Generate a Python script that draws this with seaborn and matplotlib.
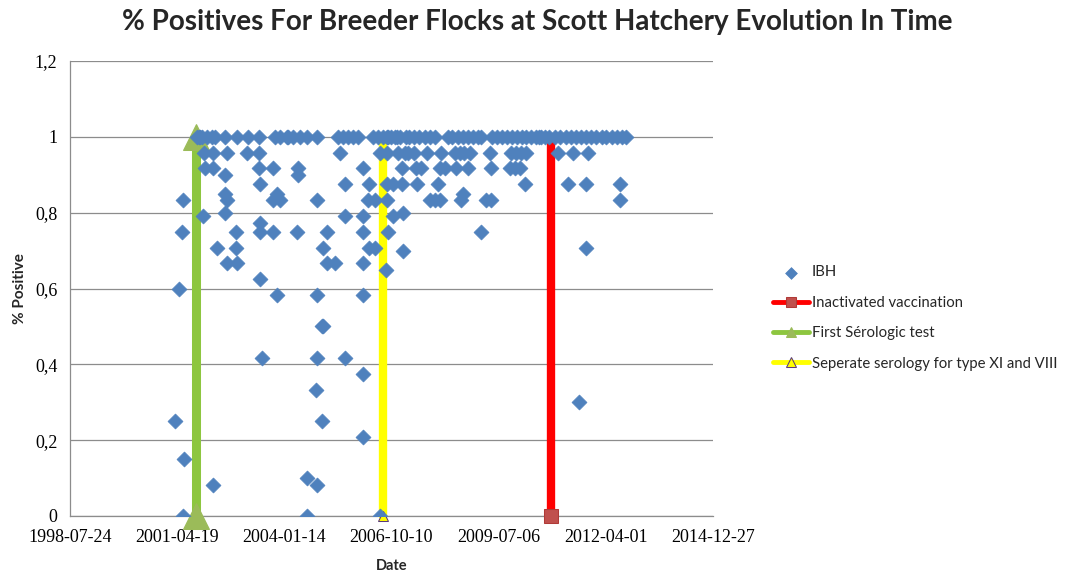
import matplotlib
matplotlib.use('Agg')
import matplotlib.pyplot as plt
import pandas as pd
import seaborn as sns

# IBH results, one list of sampling dates per % positive level
dates_100 = ['2001-10-21', '2001-11-08', '2001-11-22', '2001-12-04', '2002-01-20', '2002-03-06',
             '2002-04-06', '2002-07-08', '2002-10-26', '2003-02-06', '2003-05-24', '2003-10-18',
             '2003-12-04', '2004-02-08', '2004-02-20', '2004-04-03', '2004-06-07', '2004-08-12',
             '2004-11-11', '2005-05-28', '2005-07-14', '2005-08-30', '2005-10-15', '2005-12-01',
             '2006-04-19', '2006-06-05', '2006-07-21', '2006-08-25', '2006-09-09', '2006-10-05',
             '2006-11-08', '2006-11-27', '2006-12-25', '2007-02-19', '2007-03-26', '2007-05-12',
             '2007-06-28', '2007-08-14', '2007-09-30', '2007-11-16', '2008-03-16', '2008-05-01',
             '2008-06-17', '2008-08-03', '2008-09-19', '2008-11-04', '2008-12-21', '2009-01-25',
             '2009-05-01', '2009-06-17', '2009-08-02', '2009-09-18', '2009-11-04', '2009-12-20',
             '2010-02-05', '2010-03-22', '2010-05-08', '2010-06-24', '2010-07-21', '2010-08-09',
             '2010-09-07', '2010-10-23', '2010-12-09', '2011-01-25', '2011-03-30', '2011-05-16',
             '2011-07-01', '2011-08-17', '2011-10-03', '2011-11-19', '2012-01-04', '2012-02-21',
             '2012-04-07', '2012-06-02', '2012-07-18', '2012-09-03', '2012-10-10']
dates_096 = ['2001-12-28', '2002-03-21', '2002-07-24', '2003-01-28', '2003-05-24', '2005-06-16',
             '2006-06-23', '2006-08-25', '2006-12-09', '2007-02-10', '2007-03-11', '2007-05-12',
             '2007-09-08', '2008-01-17', '2008-05-20', '2008-07-06', '2008-08-21', '2008-10-07',
             '2009-04-12', '2009-11-01', '2009-12-11', '2010-01-27', '2010-03-19', '2011-01-09',
             '2011-05-28', '2011-10-15']
dates_092 = ['2002-01-04', '2002-03-21', '2003-05-24', '2003-10-02', '2004-05-22', '2006-01-20',
             '2007-01-19', '2007-05-28', '2007-07-14', '2008-01-01', '2008-02-18', '2008-06-05',
             '2008-09-19', '2009-04-24', '2009-10-16', '2009-12-02', '2010-01-17']
dates_090 = ['2002-07-08', '2004-05-22']
dates_088 = ['2003-05-31', '2005-08-01', '2006-03-16', '2006-08-25', '2006-10-20', '2007-01-19',
             '2007-06-09', '2007-12-16', '2010-03-05', '2011-04-12', '2011-09-30', '2012-08-12']
dates_085 = ['2002-07-08', '2003-11-03', '2008-08-03']
dates_083 = ['2001-06-09', '2002-07-24', '2003-10-02', '2003-12-04', '2004-11-11', '2006-03-06',
             '2006-05-08', '2006-08-25', '2007-09-30', '2007-11-16', '2008-01-01', '2008-07-21',
             '2009-03-12', '2009-04-24', '2012-08-12']
dates_080 = ['2002-07-08', '2007-01-25']
dates_079 = ['2001-12-19', '2005-08-01', '2006-01-20', '2006-10-23']
dates_077 = ['2003-05-31']
dates_075 = ['2001-06-02', '2002-10-19', '2003-05-31', '2003-10-02', '2004-05-15', '2005-02-19',
             '2006-01-20', '2006-09-09', '2009-01-25']
dates_071 = ['2002-04-22', '2002-10-19', '2005-01-06', '2006-03-16', '2006-05-08', '2011-09-30']
dates_070 = ['2007-01-25']
dates_067 = ['2002-07-24', '2002-10-26', '2005-02-19', '2005-04-30', '2006-01-20']
dates_065 = ['2006-08-18']
dates_063 = ['2003-05-31']
dates_060 = ['2001-05-08']
dates_058 = ['2003-11-09', '2004-11-11', '2006-01-20']
dates_050 = ['2004-12-27', '2005-01-10']
dates_042 = ['2003-06-16', '2004-11-11', '2005-08-01']
dates_038 = ['2006-01-20']
dates_033 = ['2004-11-05']
dates_030 = ['2011-07-22']
dates_025 = ['2001-03-26', '2004-12-30']
dates_021 = ['2006-01-20']
dates_015 = ['2001-06-21']
dates_010 = ['2004-08-15']
dates_008 = ['2002-03-21', '2004-11-11']
dates_000 = ['2001-06-09', '2004-08-15', '2006-06-23']

ibh_levels = [(1.0, dates_100), (0.958, dates_096), (0.917, dates_092), (0.9, dates_090),
              (0.875, dates_088), (0.85, dates_085), (0.833, dates_083), (0.8, dates_080),
              (0.792, dates_079), (0.773, dates_077), (0.75, dates_075), (0.708, dates_071),
              (0.7, dates_070), (0.667, dates_067), (0.65, dates_065), (0.625, dates_063),
              (0.6, dates_060), (0.583, dates_058), (0.5, dates_050), (0.417, dates_042),
              (0.375, dates_038), (0.333, dates_033), (0.3, dates_030), (0.25, dates_025),
              (0.208, dates_021), (0.15, dates_015), (0.1, dates_010), (0.083, dates_008),
              (0.0, dates_000)]

# event markers (vertical bars from 0 to 1)
vaccination_date = '2010-11-02'
first_serology_date = '2001-10-15'
separate_serology_date = '2006-07-26'
event_span = [0, 1]

x_ticks = ['1998-07-24', '2001-04-19', '2004-01-14', '2006-10-10',
           '2009-07-06', '2012-04-01', '2014-12-27']
y_ticks = [0, 0.2, 0.4, 0.6, 0.8, 1.0, 1.2]

rows = [(d, v) for v, ds in ibh_levels for d in ds]
ibh = pd.DataFrame(rows, columns=['date', 'positive'])
ibh['date'] = pd.to_datetime(ibh['date'])

sns.set_style('white')
plt.rcParams['font.family'] = ['Lato', 'DejaVu Sans']

fig = plt.figure(figsize=(10.74, 5.72), dpi=100)
ax = fig.add_axes([70 / 1074, 1 - 516 / 572, 643 / 1074, 455 / 572])

sns.scatterplot(data=ibh, x='date', y='positive', marker='D', s=58,
                color='#4F81BD', edgecolor='#4F81BD', linewidth=0.5,
                label='IBH', ax=ax, zorder=5)


def event_bar(date, label, color, lw, marker, mfc, mec, ms, markevery):
    ev = pd.DataFrame({'date': pd.to_datetime([date] * len(event_span)),
                       'positive': event_span})
    sns.lineplot(data=ev, x='date', y='positive', estimator=None, sort=False,
                 color=color, linewidth=lw, marker=marker, markerfacecolor=mfc,
                 markeredgecolor=mec, markersize=ms, markevery=markevery,
                 label=label, ax=ax, zorder=3, clip_on=False)


event_bar(vaccination_date, 'Inactivated vaccination', '#FF0000', 6,
          's', '#C0504D', '#B03A37', 9.5, [0])
event_bar(first_serology_date, 'First Sérologic test', '#8DC63F', 6.5,
          '^', '#9BBB59', '#9BBB59', 19, [0, 1])
event_bar(separate_serology_date, 'Seperate serology for type XI and VIII', '#FFFF00', 6,
          '^', '#FFFF00', '#5B3A7A', 7, [0])

ax.set_xlim(pd.Timestamp(x_ticks[0]), pd.Timestamp(x_ticks[-1]))
ax.set_ylim(y_ticks[0], y_ticks[-1])
ax.set_xticks(pd.to_datetime(x_ticks))
ax.set_xticklabels(x_ticks, family='Liberation Serif', fontsize=13)
ax.set_yticks(y_ticks)
ax.set_yticklabels([f'{v:g}'.replace('.', ',') for v in y_ticks],
                   family='Liberation Serif', fontsize=13)
ax.tick_params(axis='both', length=0, pad=9, colors='black')

ax.grid(axis='y', color='#8C8C8C', linewidth=0.9)
ax.grid(axis='x', visible=False)
ax.set_axisbelow(True)
for side in ['top', 'right']:
    ax.spines[side].set_visible(False)
for side in ['left', 'bottom']:
    ax.spines[side].set_color('#8C8C8C')
    ax.spines[side].set_linewidth(0.9)

ax.set_xlabel('Date', fontsize=10.5, fontweight='bold', labelpad=10)
ax.set_ylabel('% Positive', fontsize=11, fontweight='bold', labelpad=6)

fig.text(0.5, 1 - 22 / 572, '% Positives For Breeder Flocks at Scott Hatchery Evolution In Time',
         ha='center', va='center', fontsize=20, fontweight='bold')

handles, labels = ax.get_legend_handles_labels()
leg = ax.legend(handles, labels, loc='center left', bbox_to_anchor=(760 / 1074, 1 - 318 / 572),
                bbox_transform=fig.transFigure, frameon=False, fontsize=10.7,
                handlelength=2.4, labelspacing=1.1, handletextpad=0.2)
leg.legend_handles[0].set_sizes([36])
for h in leg.legend_handles[1:]:
    h.set_markersize(7.5)
    h.set_linewidth(3.5)

fig.savefig('out.png', dpi=100)
